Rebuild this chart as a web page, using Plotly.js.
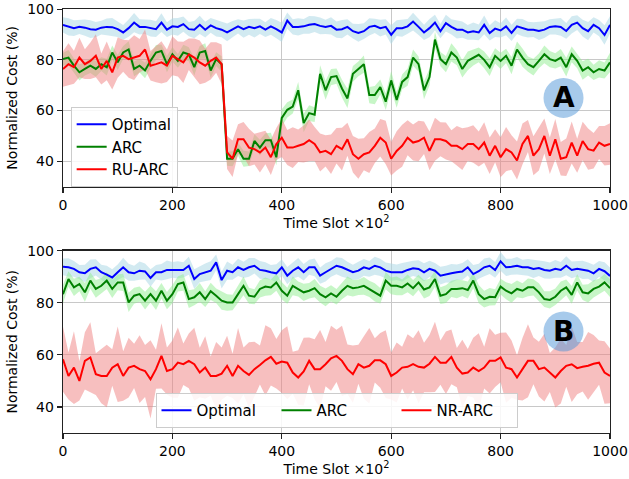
<!DOCTYPE html>
<html>
<head>
<meta charset="utf-8">
<script src="https://cdn.plot.ly/plotly-3.0.1.min.js"></script>
<style>html,body{margin:0;padding:0;background:#fff;}#chart{width:629px;height:479px;}</style>
</head>
<body>
<div id="chart"></div>
<script>
const timeSlots = [
  0,10,20,30,40,50,60,70,80,90,
  100,110,120,130,140,150,160,170,180,190,
  200,210,220,230,240,250,260,270,280,290,
  300,310,320,330,340,350,360,370,380,390,
  400,410,420,430,440,450,460,470,480,490,
  500,510,520,530,540,550,560,570,580,590,
  600,610,620,630,640,650,660,670,680,690,
  700,710,720,730,740,750,760,770,780,790,
  800,810,820,830,840,850,860,870,880,890,
  900,910,920,930,940,950,960,970,980,990,
  1000];

// ---- Panel A ----
const optimalA = [
  93.8,93.0,92.5,93.0,92.7,92.1,91.9,92.7,93.0,92.9,
  92.1,90.8,92.5,94.7,93.0,93.0,92.5,92.1,94.7,91.9,
  93.2,93.0,94.1,92.1,91.9,93.8,91.9,93.6,92.5,91.9,
  90.8,92.1,93.2,92.1,93.0,92.5,93.2,91.9,93.2,92.1,
  90.8,95.5,93.0,93.0,93.2,93.8,94.1,93.4,93.0,93.4,
  91.9,92.1,93.0,91.3,90.6,91.3,93.0,93.4,92.5,93.0,
  89.9,92.5,92.5,93.2,95.1,93.0,90.8,92.5,94.7,91.3,
  94.5,93.0,91.9,91.9,90.8,91.3,90.8,93.8,90.6,92.3,
  91.6,93.2,90.6,93.2,92.7,91.9,91.9,91.4,91.9,93.0,
  93.2,93.0,91.4,93.8,94.7,92.5,91.3,93.8,92.5,89.8,
  93.8];
const optimalAStd = [
  3.0,3.4,3.1,2.8,3.2,3.5,3.0,2.7,3.3,3.6,
  3.1,2.9,3.4,3.8,3.0,2.8,3.3,3.1,3.7,2.9,
  3.2,3.5,3.0,2.8,3.4,3.6,3.1,2.9,3.3,3.0,
  3.5,3.2,2.8,3.4,3.1,3.7,3.0,2.9,3.3,3.6,
  3.8,3.2,3.0,3.4,2.9,3.5,3.1,3.3,2.8,3.4,
  3.2,3.6,3.0,2.9,3.5,3.1,3.4,2.8,3.3,3.0,
  3.7,3.1,3.4,2.9,3.5,3.2,3.0,3.6,3.1,2.8,
  3.3,3.0,3.5,3.2,2.9,3.4,3.1,3.7,3.0,3.3,
  2.8,3.5,3.2,3.0,3.4,3.1,2.9,3.6,3.3,3.0,
  3.2,3.5,3.1,3.4,2.9,3.3,3.6,3.0,3.2,3.8,
  3.4];
const arcA = [
  80.3,80.9,77.7,75.1,76.4,77.7,76.4,78.3,77.1,82.9,
  79.0,82.9,84.1,76.4,77.7,75.8,79.6,82.9,83.5,78.3,
  82.2,79.6,82.9,82.2,77.1,82.9,83.5,75.8,80.3,78.3,
  41.0,41.0,44.8,41.0,41.0,48.0,45.4,48.3,48.3,41.6,
  57.1,60.3,61.6,68.0,55.1,59.0,58.4,74.5,68.0,73.2,
  73.6,68.7,64.8,74.5,76.4,78.3,66.1,66.1,69.3,63.5,
  71.9,64.2,71.3,73.2,80.9,78.3,68.0,73.2,88.0,80.3,
  78.3,82.9,80.9,76.4,79.6,80.9,82.0,80.0,77.1,81.6,
  79.6,81.6,77.7,84.1,80.9,78.3,77.1,79.6,82.2,80.3,
  79.6,80.9,77.1,82.2,79.6,75.8,77.1,75.1,76.4,75.8,
  79.0];
const arcAStd = [
  2.5,3.0,2.8,3.2,2.6,2.9,3.1,2.7,3.3,2.8,
  3.0,2.6,3.2,2.9,2.7,3.1,2.8,3.0,2.6,3.2,
  2.9,2.7,3.1,2.8,3.3,2.6,3.0,2.9,2.7,3.1,
  2.8,3.0,2.6,3.2,2.9,2.7,3.1,2.8,3.0,3.2,
  3.4,3.0,2.8,3.3,3.6,3.1,2.9,3.4,3.7,3.2,
  3.0,3.5,3.8,3.1,2.9,3.4,3.2,3.6,3.0,3.3,
  3.7,3.1,2.9,3.4,3.2,3.0,3.5,3.3,3.1,2.8,
  3.2,3.6,3.0,3.4,3.7,3.1,2.9,3.3,3.5,3.0,
  3.2,2.8,3.4,3.1,3.6,3.0,3.3,2.9,3.5,3.2,
  3.0,3.4,3.7,3.1,2.9,3.6,3.3,3.0,3.4,3.2,
  3.8];
const ruArcA = [
  76.4,78.3,77.1,80.9,78.3,79.6,81.6,76.4,79.6,75.1,
  80.9,81.6,80.3,80.9,81.6,84.1,77.7,78.3,79.0,77.7,
  81.6,80.3,79.0,82.2,80.9,79.0,77.7,79.6,80.9,78.3,
  43.5,41.0,48.7,48.7,45.4,44.8,43.5,45.4,41.6,46.8,
  49.3,45.4,45.4,46.1,46.8,48.3,46.8,43.5,44.1,42.8,
  46.1,44.8,48.7,42.8,41.0,42.8,43.5,46.1,49.3,47.4,
  41.0,44.1,46.1,49.3,47.4,48.0,49.3,44.1,48.7,48.7,
  48.0,46.1,46.1,44.8,46.8,46.8,44.8,47.4,42.2,46.1,
  41.6,44.8,43.5,40.3,46.8,50.0,42.2,44.8,50.0,42.2,
  48.7,41.0,41.6,47.4,42.2,48.0,44.8,44.2,47.4,46.1,
  46.8];
const ruArcAStd = [
  7.0,8.2,6.5,7.8,5.9,7.2,8.5,6.1,7.6,6.8,
  8.0,6.3,7.4,8.8,6.6,7.9,5.8,7.1,8.3,6.4,
  7.7,6.9,8.1,6.2,7.5,8.6,6.7,7.3,6.0,7.8,
  6.5,7.2,5.9,6.8,7.4,6.1,7.9,6.6,7.0,6.3,
  7.6,6.9,8.0,6.4,7.3,8.2,6.7,7.5,6.2,7.8,
  7.0,8.4,6.5,7.2,7.9,6.3,8.1,6.8,7.4,8.6,
  6.6,7.7,8.3,6.9,7.1,8.0,6.4,7.6,8.5,6.7,
  7.3,6.1,7.8,8.2,6.6,7.4,6.9,8.0,7.2,6.5,
  7.9,8.7,6.8,7.5,8.1,6.3,7.7,8.4,6.9,7.2,
  8.0,6.6,7.4,8.3,6.7,7.6,8.1,7.0,6.5,7.8,
  8.2];

// ---- Panel B ----
const optimalB = [
  93.8,93.6,93.0,91.7,91.3,93.0,93.6,91.7,90.8,89.7,
  91.7,93.6,91.7,91.3,92.3,92.0,89.5,91.7,91.7,92.6,
  92.6,92.6,92.6,94.2,89.1,91.0,91.7,92.3,95.5,88.7,
  92.3,91.7,93.6,92.6,93.6,94.2,92.6,92.3,91.7,91.3,
  93.6,90.4,92.3,93.6,91.7,93.6,93.6,90.4,91.7,93.0,
  94.2,93.6,92.6,91.7,92.3,93.6,93.0,94.2,93.6,92.3,
  91.7,91.7,91.7,92.6,93.2,93.0,91.7,93.0,92.3,90.4,
  91.0,91.3,91.7,92.0,93.6,91.0,92.1,93.6,94.2,92.6,
  95.9,93.6,93.8,94.2,93.6,93.6,93.0,93.3,92.6,92.3,
  93.0,92.6,94.2,92.6,93.0,92.6,92.3,91.3,93.0,92.1,
  90.3];
const optimalBStd = [
  3.2,3.5,3.0,2.8,3.3,3.6,3.1,2.9,3.4,3.2,
  3.0,3.7,3.3,2.9,3.5,3.1,3.4,2.8,3.2,3.6,
  3.0,3.3,2.9,3.5,3.8,3.1,3.4,3.6,3.0,3.2,
  3.5,2.9,3.3,3.1,3.6,3.0,3.4,3.2,2.8,3.5,
  3.1,3.3,3.0,3.6,3.2,2.9,3.4,3.1,3.5,3.0,
  3.3,3.6,3.1,2.9,3.4,3.2,3.0,3.5,3.3,3.1,
  3.4,3.0,3.6,3.2,2.9,3.3,3.5,3.1,3.0,3.4,
  3.2,3.6,3.0,3.3,3.1,3.5,2.9,3.4,3.2,3.0,
  3.6,3.3,3.1,3.4,2.9,3.2,3.5,3.0,3.3,3.1,
  3.4,3.0,3.6,3.2,2.9,3.5,3.1,3.3,3.0,3.4,
  3.2];
const arcB = [
  83.3,89.1,85.9,87.2,84.0,88.5,85.3,86.5,88.5,85.3,
  87.8,87.8,80.1,82.7,83.3,80.8,83.3,80.8,84.6,80.8,
  83.3,87.2,87.8,81.4,82.1,84.0,81.4,84.4,82.7,80.8,
  80.1,80.1,83.3,86.5,82.7,82.3,85.3,86.2,85.9,87.8,
  84.6,82.7,86.5,85.3,84.0,84.6,85.6,83.3,82.1,83.6,
  82.3,84.6,86.5,85.6,85.9,86.5,85.3,84.0,82.7,88.5,
  86.5,86.5,85.9,87.4,85.6,87.8,85.1,85.9,89.1,82.7,
  83.3,85.3,85.3,85.6,84.9,88.5,83.3,81.4,82.3,82.1,
  86.2,84.6,83.6,85.3,84.6,85.9,85.9,84.0,81.4,81.1,
  82.3,84.6,85.9,83.0,87.8,84.0,83.6,85.3,86.2,87.8,
  85.6];
const arcBStd = [
  3.5,3.0,3.3,2.8,3.6,3.1,3.4,2.9,3.2,3.5,
  3.0,3.3,3.7,3.1,2.9,3.4,3.2,3.6,3.0,3.3,
  3.5,2.9,3.2,3.4,3.1,3.6,3.0,3.3,2.8,3.5,
  3.2,3.0,3.4,3.6,3.1,2.9,3.3,3.5,3.0,3.2,
  3.4,3.1,3.6,2.9,3.3,3.0,3.5,3.2,3.4,3.1,
  3.0,3.3,3.6,3.2,2.9,3.4,3.1,3.5,3.0,3.3,
  3.2,3.6,3.0,3.4,3.1,2.9,3.5,3.3,3.0,3.2,
  3.4,3.1,3.6,3.0,3.3,2.9,3.5,3.2,3.4,3.1,
  3.0,3.3,3.6,3.2,2.9,3.4,3.1,3.5,3.0,3.3,
  3.2,3.6,3.0,3.4,3.1,2.9,3.5,3.3,3.0,3.2,
  3.4];
const nrArcB = [
  58.3,51.9,55.1,50.0,57.7,59.0,52.6,51.9,51.9,55.1,
  56.4,51.9,55.1,55.8,54.5,53.8,50.6,54.5,59.6,53.8,
  54.5,57.0,56.4,57.7,56.4,53.2,55.1,51.9,51.9,52.8,
  55.8,51.9,55.8,53.8,52.3,54.5,56.1,57.9,59.2,56.6,
  57.4,57.0,53.2,51.3,53.6,57.7,54.5,54.5,56.4,58.7,
  59.6,57.7,54.5,52.6,56.4,55.1,55.8,57.9,57.9,56.4,
  51.9,53.2,55.1,55.4,56.4,55.4,55.1,56.6,59.2,57.0,
  57.0,59.2,55.1,52.8,53.2,55.1,53.8,55.1,57.7,57.7,
  59.0,55.1,54.5,51.3,54.5,57.7,57.7,54.5,55.1,53.2,
  51.3,53.8,55.8,56.4,54.9,55.4,55.8,56.6,57.0,53.2,
  51.9];
const nrArcBStd = [
  12.5,9.0,14.0,7.5,11.0,13.5,8.0,10.5,12.0,7.0,
  14.5,9.5,11.5,8.5,13.0,10.0,15.0,7.5,12.5,9.0,
  11.0,13.5,8.0,10.5,14.0,9.5,12.0,7.5,13.0,10.0,
  11.5,8.5,14.5,9.0,12.5,10.5,7.5,13.5,11.0,9.5,
  12.0,14.0,8.0,10.5,13.0,9.0,11.5,15.0,8.5,12.5,
  10.0,13.5,9.5,11.0,7.5,12.0,14.5,8.5,10.5,13.0,
  9.0,11.5,8.0,12.5,10.0,14.0,9.5,11.0,13.5,8.5,
  12.0,10.5,7.5,13.0,9.0,11.5,14.5,8.0,12.5,10.0,
  9.5,13.5,11.0,8.5,12.0,14.0,9.0,10.5,13.0,7.5,
  11.5,12.5,8.0,14.5,10.0,9.5,13.0,11.0,8.5,12.0,
  10.5];

const seriesNamesA = ['Optimal', 'ARC', 'RU-ARC'];
const seriesNamesB = ['Optimal', 'ARC', 'NR-ARC'];
const xTicks = [0, 200, 400, 600, 800, 1000];
const yTicks = [40, 60, 80, 100];
const yTickText = ['40', '60', '80', '100'];

const lineColors = ['#0000ff', '#008000', '#ff0000'];
const bandColors = ['rgba(173,216,230,0.55)', 'rgba(144,238,144,0.5)', 'rgba(240,128,128,0.5)'];

function bandTraces(mean, std, color, xa, ya) {
  const upper = mean.map((m, i) => m + std[i]);
  const lower = mean.map((m, i) => m - std[i]);
  return [
    {x: timeSlots, y: upper, xaxis: xa, yaxis: ya, mode: 'lines', line: {width: 0, color: color},
     showlegend: false, hoverinfo: 'skip'},
    {x: timeSlots, y: lower, xaxis: xa, yaxis: ya, mode: 'lines', line: {width: 0, color: color},
     fill: 'tonexty', fillcolor: color, showlegend: false, hoverinfo: 'skip'}
  ];
}
function lineTrace(mean, name, color, xa, ya, leg) {
  return {x: timeSlots, y: mean, xaxis: xa, yaxis: ya, mode: 'lines', name: name,
          line: {color: color, width: 2}, legend: leg};
}

const meansA = [optimalA, arcA, ruArcA], stdsA = [optimalAStd, arcAStd, ruArcAStd];
const meansB = [optimalB, arcB, nrArcB], stdsB = [optimalBStd, arcBStd, nrArcBStd];

let traces = [];
for (let k = 0; k < 3; k++) traces = traces.concat(bandTraces(meansA[k], stdsA[k], bandColors[k], 'x', 'y'));
for (let k = 0; k < 3; k++) traces.push(lineTrace(meansA[k], seriesNamesA[k], lineColors[k], 'x', 'y', 'legend'));
for (let k = 0; k < 3; k++) traces = traces.concat(bandTraces(meansB[k], stdsB[k], bandColors[k], 'x2', 'y2'));
for (let k = 0; k < 3; k++) traces.push(lineTrace(meansB[k], seriesNamesB[k], lineColors[k], 'x2', 'y2', 'legend2'));

const fontFam = 'DejaVu Sans, sans-serif';
function xAxis(anchor) {
  return {
    anchor: anchor, domain: [0, 1], range: [0, 1000], tickvals: xTicks,
    showline: true, mirror: true, linecolor: '#222', linewidth: 1.3,
    ticks: 'outside', ticklen: 5, tickcolor: '#222', tickwidth: 1.2,
    showgrid: true, gridcolor: '#c8c8c8', gridwidth: 1, zeroline: false,
    ticklabeloverflow: 'allow',
    tickfont: {size: 14, color: '#000'},
    title: {text: 'Time Slot ×10<sup>2</sup>', font: {size: 14, color: '#000'}, standoff: 4}
  };
}
function yAxis(anchor, domain) {
  return {
    anchor: anchor, domain: domain, range: [30, 100.05], tickvals: yTicks, ticktext: yTickText,
    showline: true, mirror: true, linecolor: '#222', linewidth: 1.3,
    ticks: 'outside', ticklen: 5, tickcolor: '#222', tickwidth: 1.2,
    showgrid: true, gridcolor: '#c8c8c8', gridwidth: 1, zeroline: false,
    ticklabeloverflow: 'allow',
    tickfont: {size: 14, color: '#000'},
    title: {text: 'Normalized Cost (%)', font: {size: 14, color: '#000'}, standoff: 6}
  };
}

const layout = {
  width: 629, height: 479,
  margin: {l: 63, r: 19, t: 9, b: 46},
  paper_bgcolor: '#ffffff', plot_bgcolor: '#ffffff',
  font: {family: fontFam, size: 14, color: '#000'},
  xaxis: xAxis('y'),
  yaxis: yAxis('x', [0.581, 1]),
  xaxis2: xAxis('y2'),
  yaxis2: yAxis('x2', [0, 0.4304]),
  legend: {x: 0.014, y: 0.769, xanchor: 'left', yanchor: 'top', traceorder: 'normal',
           bgcolor: 'rgba(255,255,255,0.85)', bordercolor: '#cccccc', borderwidth: 1,
           font: {size: 15, color: '#000'}},
  legend2: {orientation: 'h', x: 0.5, y: 0.012, xanchor: 'center', yanchor: 'bottom', traceorder: 'normal',
            entrywidth: 75, entrywidthmode: 'pixels',
            bgcolor: 'rgba(255,255,255,0.85)', bordercolor: '#cccccc', borderwidth: 1,
            font: {size: 15, color: '#000'}},
  shapes: [
    {type: 'circle', xref: 'x', yref: 'y', xsizemode: 'pixel', ysizemode: 'pixel',
     xanchor: 915, yanchor: 65, x0: -20, x1: 20, y0: -20, y1: 20,
     fillcolor: 'rgba(80,150,215,0.5)', line: {width: 0}, layer: 'above'},
    {type: 'circle', xref: 'x2', yref: 'y2', xsizemode: 'pixel', ysizemode: 'pixel',
     xanchor: 915, yanchor: 69, x0: -20, x1: 20, y0: -20, y1: 20,
     fillcolor: 'rgba(80,150,215,0.5)', line: {width: 0}, layer: 'above'}
  ],
  annotations: [
    {xref: 'x', yref: 'y', x: 915, y: 65, text: '<b>A</b>', showarrow: false,
     font: {size: 28, color: '#000', family: fontFam}},
    {xref: 'x2', yref: 'y2', x: 915, y: 69, text: '<b>B</b>', showarrow: false,
     font: {size: 28, color: '#000', family: fontFam}}
  ],
  showlegend: true
};

Plotly.newPlot('chart', traces, layout, {displayModeBar: false, staticPlot: true});
</script>
</body>
</html>
